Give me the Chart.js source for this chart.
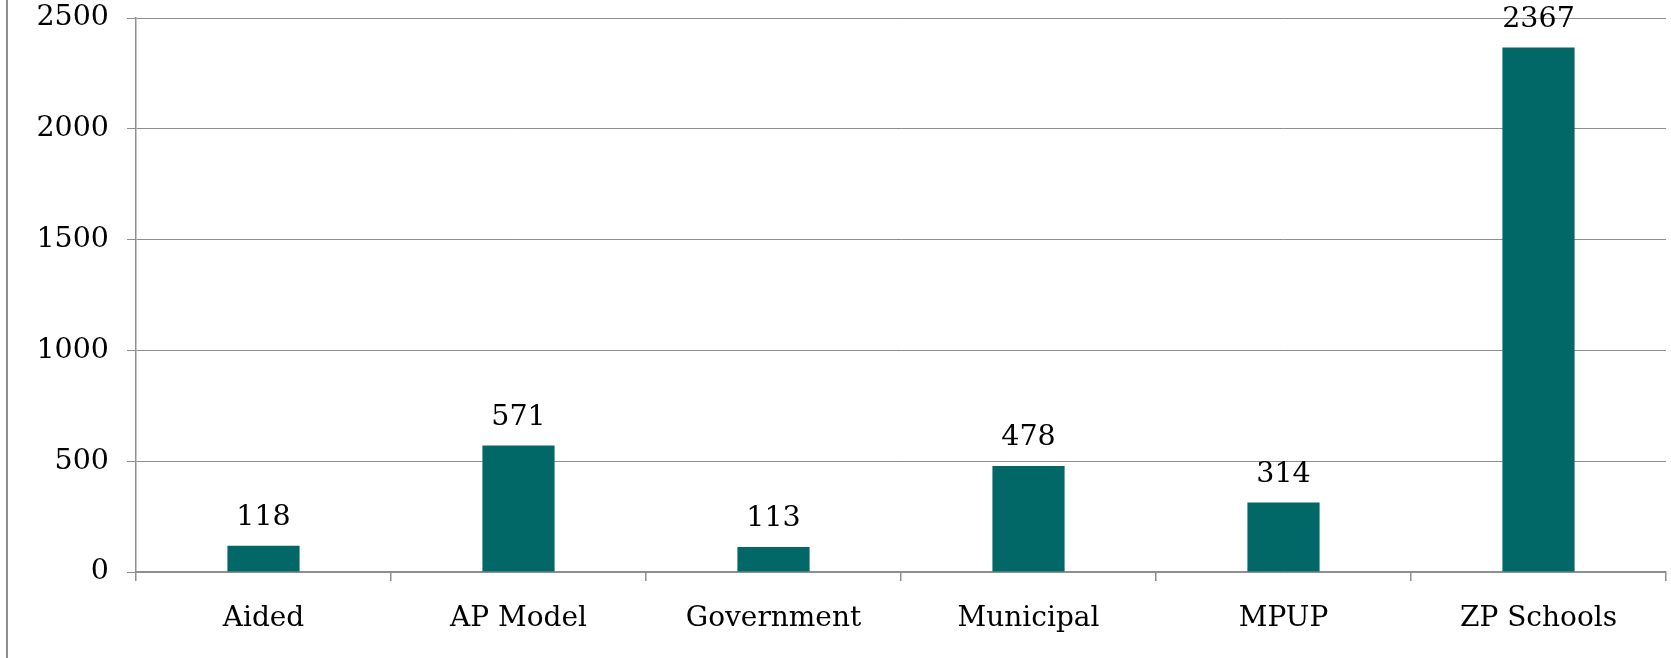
<!DOCTYPE html>
<html>
<head>
<meta charset="utf-8">
<script src="https://cdn.jsdelivr.net/npm/chart.js@4"></script>
<style>
  body { margin: 0; background: #fff; }
  .wrap { width: 1671px; height: 658px; position: relative; }
</style>
</head>
<body>
<div class="wrap"><canvas id="schoolChart"></canvas></div>
<script>
const categories = ["Aided", "AP Model", "Government", "Municipal", "MPUP", "ZP Schools"];
const schoolCounts = [118, 571, 113, 478, 314, 2367];
const yTicks = [0, 500, 1000, 1500, 2000, 2500];

const FONT = "'DejaVu Serif', 'Liberation Serif', serif";
const GRID = "#8e8e8e";

// values over each bar
const valueLabels = {
  id: "valueLabels",
  afterDatasetsDraw(chart) {
    const ctx = chart.ctx;
    const meta = chart.getDatasetMeta(0);
    ctx.save();
    ctx.font = "28.5px " + FONT;
    ctx.fillStyle = "#000";
    ctx.textAlign = "center";
    ctx.textBaseline = "middle";
    meta.data.forEach((bar, i) => {
      ctx.fillText(String(schoolCounts[i]), bar.x, bar.y - 28);
    });
    ctx.restore();
  }
};

// thin frame line down the left side
const leftRule = {
  id: "leftRule",
  beforeDraw(chart) {
    const ctx = chart.ctx;
    ctx.save();
    ctx.strokeStyle = GRID;
    ctx.lineWidth = 2;
    ctx.beginPath();
    ctx.moveTo(7, 0);
    ctx.lineTo(7, chart.height);
    ctx.stroke();
    ctx.restore();
  }
};

new Chart(document.getElementById("schoolChart"), {
  type: "bar",
  data: {
    labels: categories,
    datasets: [{
      data: schoolCounts,
      backgroundColor: "#026867",
      barPercentage: 0.283,
      categoryPercentage: 1
    }]
  },
  options: {
    responsive: true,
    maintainAspectRatio: false,
    animation: false,
    layout: { padding: { top: 18, right: 5, left: 0, bottom: 0 } },
    plugins: {
      legend: { display: false },
      tooltip: { enabled: false }
    },
    scales: {
      y: {
        min: 0,
        max: 2500,
        afterBuildTicks(axis) { axis.ticks = yTicks.map(v => ({ value: v })); },
        afterFit(axis) {
          axis.width = 136;
          axis.paddingTop = 0;
          axis.paddingBottom = 0;
        },
        ticks: {
          color: "#000",
          font: { family: FONT, size: 28.5 },
          padding: 18,
          callback: v => String(v)
        },
        grid: { color: GRID, lineWidth: 1, tickLength: 9 },
        border: { color: GRID, width: 1.5 }
      },
      x: {
        afterFit(axis) { axis.height = 86; },
        ticks: { color: "#000", font: { family: FONT, size: 28 }, padding: 21 },
        grid: { color: GRID, drawOnChartArea: false, tickLength: 9, lineWidth: 1.5 },
        border: { color: GRID, width: 1.5 }
      }
    }
  },
  plugins: [leftRule, valueLabels]
});
</script>
</body>
</html>
